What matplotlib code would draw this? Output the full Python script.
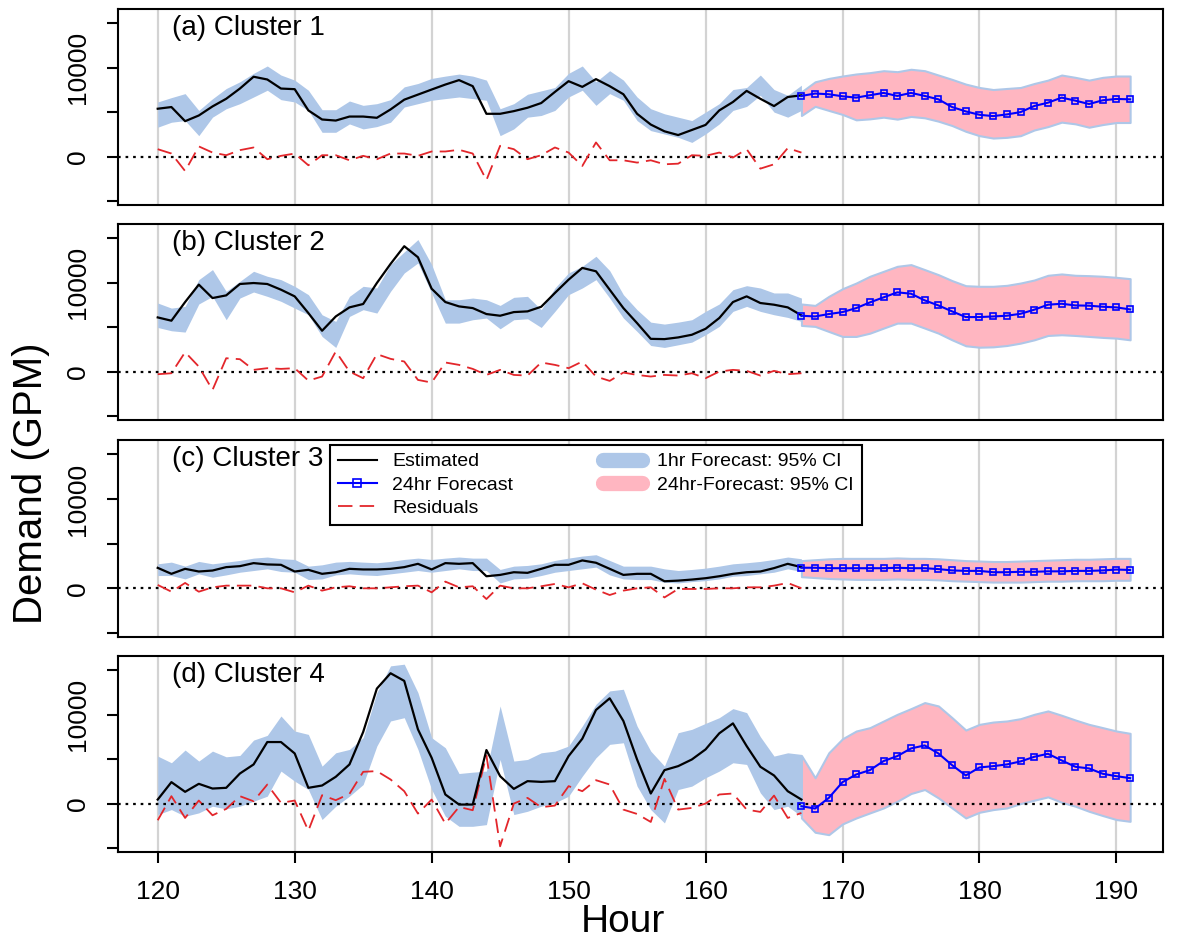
import matplotlib
matplotlib.use("Agg")
import matplotlib.pyplot as plt
from matplotlib.lines import Line2D

plt.rcParams['font.family'] = ['Liberation Sans', 'DejaVu Sans']

# Hours: observed/estimated part and 24 hour forecast part
hours_est = list(range(120, 168))
hours_fc = list(range(167, 192))

# Cluster 1
est_c1 = [5380, 5570, 3980, 4620, 5640, 6500, 7650, 8980, 8670, 7650,
          7580, 5190, 4170, 4050, 4500, 4500, 4360, 5300, 6400, 6970,
          7540, 8100, 8600, 7920, 4810, 4810, 5110, 5490, 6020, 7270,
          8480, 7840, 8710, 7920, 7010, 4810, 3600, 2840, 2420, 2990,
          3560, 5190, 6140, 7390, 6500, 5680, 6700, 6890]
hi1_c1 = [6140, 6630, 7080, 5190, 6500, 7650, 8410, 9360, 10190, 9170,
          8600, 7460, 5270, 5270, 6250, 5760, 5950, 6400, 7840, 8220,
          8790, 9050, 9280, 9050, 8600, 5380, 5950, 7010, 7390, 7770,
          9360, 10190, 8410, 9660, 8600, 6700, 5380, 4810, 4430, 4050,
          5000, 5950, 7540, 7770, 9170, 7540, 6890, 8030]
lo1_c1 = [3300, 3860, 4050, 2350, 4430, 5380, 5950, 6700, 7460, 6400,
          6140, 5190, 2730, 2730, 3670, 3110, 3370, 3860, 5570, 5950,
          6330, 6520, 6700, 6520, 6330, 2350, 3110, 4430, 4620, 5190,
          6700, 7460, 5760, 7080, 6330, 4050, 2920, 2540, 2160, 1590,
          2540, 3670, 5190, 5640, 6890, 5000, 4430, 5190]
resid_c1 = [830, 340, -1630, 1140, 450, 150, 720, 1020, -300, 80,
            340, -980, 150, 150, -420, 80, -300, 340, 340, 80,
            570, 570, 760, 340, -2650, 1210, 830, -300, 150, 1020,
            450, -1060, 1590, -420, -420, -680, -420, -870, -800, 150,
            80, 450, -110, 830, -1360, -870, 950, 450]
fc_c1 = [6820, 7090, 7010, 6780, 6630, 6900, 7160, 6820, 7160, 6820,
         6440, 5570, 5080, 4700, 4550, 4740, 5000, 5690, 6060, 6630,
         6290, 5910, 6330, 6480, 6440]
hi24_c1 = [7280, 8410, 8790, 9060, 9290, 9440, 9660, 9550, 9820, 9660,
           9170, 8680, 8150, 7770, 7540, 7660, 7770, 8220, 8600, 9170,
           8910, 8600, 8910, 9060, 9060]
lo24_c1 = [4620, 5650, 5190, 4740, 4130, 4240, 4430, 4210, 4510, 4360,
           3980, 3490, 2840, 2350, 2080, 2160, 2350, 2990, 3370, 3870,
           3680, 3300, 3600, 3830, 3830]

# Cluster 2
est_c2 = [6090, 5720, 7820, 9780, 8270, 8570, 9850, 9960, 9850, 9210,
          8460, 6580, 4590, 6200, 7220, 7600, 9960, 12110, 14100, 12860,
          9320, 7820, 7330, 7140, 6470, 6280, 6690, 6770, 7290, 8840,
          10340, 11660, 11280, 9210, 7140, 5450, 3680, 3650, 3840, 4140,
          4810, 6020, 7820, 8460, 7710, 7520, 7220, 6320]
hi1_c2 = [7710, 7140, 7330, 10340, 11470, 9020, 10150, 11280, 10720, 10340,
          9590, 8650, 6390, 5640, 8460, 9590, 9400, 12030, 13460, 14850,
          12030, 8080, 8080, 8270, 8080, 7440, 8350, 8460, 6960, 9400,
          11090, 11840, 12970, 11360, 8650, 6960, 5560, 5340, 5560, 5830,
          6770, 7600, 9210, 9660, 9400, 8840, 8840, 8270]
lo1_c2 = [4960, 4590, 4440, 7600, 8460, 5830, 8270, 8950, 8460, 7900,
          7140, 6390, 3950, 2710, 6200, 6960, 6580, 9020, 11090, 12220,
          8840, 5450, 5450, 5830, 6020, 4810, 5830, 5940, 4960, 6770,
          8650, 9400, 10340, 8270, 6020, 4510, 2930, 2710, 3010, 3310,
          4140, 5080, 6770, 7330, 6770, 6390, 6090, 5640]
resid_c2 = [-300, -190, 2180, 560, -2070, 1500, 1390, 190, 380, 300,
            380, -1020, -560, 2260, 0, -750, 1960, 1430, 1130, -940,
            -1240, 1020, 750, 300, -380, 190, -380, -450, 1020, 750,
            380, 1130, -560, -1050, -110, -380, -560, -380, -450, -190,
            -750, 0, 190, 80, -450, 80, -300, -190]
fc_c2 = [6280, 6200, 6470, 6690, 7140, 7780, 8350, 8910, 8760, 8010,
         7440, 6770, 6130, 6130, 6200, 6280, 6500, 6960, 7520, 7630,
         7440, 7410, 7290, 7220, 6990]
hi24_c2 = [7600, 7440, 8460, 9320, 9960, 10720, 11280, 11840, 12030, 11470,
           10900, 10230, 9660, 9590, 9590, 9700, 9960, 10300, 10830, 10980,
           10830, 10790, 10720, 10600, 10450]
lo24_c2 = [5190, 5080, 4510, 3950, 3950, 4320, 4890, 5450, 5450, 4890,
           4320, 3570, 2900, 2740, 2780, 2930, 3200, 3570, 4060, 4140,
           4060, 3950, 3840, 3760, 3570]

# Cluster 3
est_c3 = [2290, 1620, 2180, 1880, 1990, 2370, 2480, 2820, 2670, 2630,
          1880, 2070, 1620, 1800, 2180, 2110, 2110, 2180, 2370, 2740,
          2110, 2820, 2740, 2820, 1350, 1500, 1800, 1730, 2180, 2630,
          2630, 3120, 2860, 2180, 1500, 1620, 1620, 790, 860, 980,
          1130, 1350, 1620, 1800, 1880, 2260, 2740, 2370]
hi1_c3 = [2740, 2930, 2480, 3010, 2740, 2930, 3120, 3380, 3500, 3310,
          3230, 2480, 2630, 2930, 3010, 2930, 2860, 3010, 3230, 3380,
          3230, 3380, 3500, 3380, 3380, 2110, 2480, 2560, 2740, 3120,
          3380, 3610, 3760, 3120, 2480, 2480, 2480, 2180, 1990, 2110,
          2260, 2480, 2740, 2860, 3010, 3230, 3500, 3310]
lo1_c3 = [1430, 1430, 1050, 1620, 1240, 1500, 1800, 1990, 2180, 1880,
          1800, 980, 1050, 1500, 1620, 1500, 1430, 1620, 1800, 1990,
          1800, 1990, 2180, 1990, 1990, 600, 1050, 1130, 1430, 1800,
          1990, 2180, 2370, 1500, 1050, 980, 980, 680, 600, 750,
          860, 1050, 1350, 1430, 1620, 1800, 2180, 1880]
resid_c3 = [380, -380, 600, -380, 110, 300, 300, 300, 0, 0,
            -450, 300, -260, 110, 230, 0, 0, 110, 230, 300,
            -450, 750, 110, 230, -1200, 300, 0, 0, 230, 490,
            110, 560, -150, -750, -260, 0, 110, -1020, -75, -75,
            -75, 0, 0, 110, 110, 300, 600, 0]
fc_c3 = [2300, 2300, 2250, 2250, 2250, 2250, 2250, 2300, 2250, 2250,
         2150, 2000, 1950, 1950, 1800, 1800, 1850, 1850, 1900, 1900,
         1950, 1950, 2000, 2100, 2050]
hi24_c3 = [3100, 3200, 3300, 3350, 3350, 3350, 3350, 3400, 3350, 3350,
           3300, 3200, 3100, 3050, 3000, 3000, 3050, 3100, 3150, 3200,
           3250, 3250, 3300, 3350, 3350]
lo24_c3 = [1300, 1200, 1100, 1050, 1000, 1000, 1000, 1050, 1000, 1000,
           950, 850, 800, 750, 700, 700, 700, 750, 800, 800,
           850, 850, 850, 900, 900]

# Cluster 4
est_c4 = [450, 2410, 1320, 2220, 1690, 1770, 3380, 4400, 6920, 6920,
          5640, 1770, 2030, 3010, 4400, 8050, 12930, 14660, 13800, 8350,
          5150, 1020, -110, -110, 6020, 3080, 1650, 2520, 2440, 2520,
          5340, 7290, 10530, 11840, 9290, 4960, 1130, 3760, 4210, 4960,
          6090, 7900, 9020, 6470, 4140, 3160, 1390, 450]
hi1_c4 = [5340, 4590, 6020, 4780, 5900, 5260, 5410, 7140, 7670, 9850,
          8160, 7780, 4210, 5710, 6090, 7410, 12480, 15490, 15680, 12480,
          7410, 6280, 3380, 3530, 3650, 10980, 4780, 4960, 5710, 5900,
          6470, 8720, 11170, 12670, 12860, 8720, 5900, 4210, 7970, 8350,
          9020, 9660, 10680, 10230, 7520, 5340, 5710, 5530]
lo1_c4 = [-1240, -680, -1430, -1050, -300, -600, -300, 260, 830, 3650,
          2520, 1580, -1800, -300, 830, 2140, 6470, 9290, 9660, 6090,
          1580, -1430, -2560, -2560, -2370, 4960, -1240, -870, -300, 80,
          830, 3080, 5150, 6660, 6840, 1960, -680, -2180, 1580, 1960,
          2900, 3650, 4590, 4400, 1200, -680, -300, -1430]
resid_c4 = [-1880, 830, -1620, 340, -1320, -600, 830, 260, 2140, 80,
            340, -3050, 940, 380, 1090, 3570, 3650, 2710, 1390, -1130,
            450, -2260, -380, -750, 5410, -4810, 0, 640, -410, -230,
            1960, 1390, 2630, 2140, -680, -1170, -2070, 2780, -680, -490,
            0, 1020, 1130, -680, -940, 900, -1620, -1050]
fc_c4 = [-300, -560, 640, 2410, 3270, 3760, 4780, 5340, 6200, 6540,
         5640, 4320, 3160, 4060, 4210, 4400, 4740, 5260, 5600, 4850,
         4140, 3950, 3350, 3080, 2860]
hi24_c4 = [5410, 2900, 5720, 7290, 8160, 8540, 9290, 10040, 10680, 11360,
           10980, 9660, 8270, 8910, 9170, 9290, 9550, 10040, 10420, 9930,
           9400, 8910, 8540, 8160, 7900]
lo24_c4 = [-1620, -3230, -3500, -2290, -1620, -1050, -490, 260, 1130, 1580,
           640, -490, -1620, -980, -680, -490, 0, 380, 750, 150,
           -300, -870, -1350, -1800, -2000]

titles = ["(a) Cluster 1", "(b) Cluster 2", "(c) Cluster 3", "(d) Cluster 4"]
panels = [
    (est_c1, lo1_c1, hi1_c1, resid_c1, fc_c1, lo24_c1, hi24_c1),
    (est_c2, lo1_c2, hi1_c2, resid_c2, fc_c2, lo24_c2, hi24_c2),
    (est_c3, lo1_c3, hi1_c3, resid_c3, fc_c3, lo24_c3, hi24_c3),
    (est_c4, lo1_c4, hi1_c4, resid_c4, fc_c4, lo24_c4, hi24_c4),
]

blue_ci = "#aec7e8"
pink_ci = "#ffb6c1"
red = "#e3262b"

W, H = 1180, 940
fig = plt.figure(figsize=(W / 100, H / 100), dpi=100)

# panel boxes in pixels (top, bottom)
boxes = [(9, 205), (224, 420), (440, 637), (656, 852)]
left_px, right_px = 118, 1163

axes = []
for i, (top, bottom) in enumerate(boxes):
    ax = fig.add_axes([left_px / W, 1 - bottom / H,
                       (right_px - left_px) / W, (bottom - top) / H])
    est, lo1, hi1, resid, fc, lo24, hi24 = panels[i]

    ax.set_xlim(117.1, 193.4)
    ax.set_ylim(-5450, 16600)

    # vertical grid lines
    for g in range(120, 191, 10):
        ax.axvline(g, color="#d3d3d3", lw=1.6, zorder=0)

    # confidence bands
    ax.fill_between(hours_est, lo1, hi1, color=blue_ci, lw=0, zorder=1)
    ax.fill_between(hours_fc, lo24, hi24, facecolor=pink_ci,
                    edgecolor=blue_ci, lw=1.5, zorder=2)

    ax.axhline(0, color="black", lw=1.6, ls=(0, (1.2, 2.2)), zorder=3)

    ax.plot(hours_est, resid, color=red, lw=1.3, dashes=(8, 4), zorder=4)
    ax.plot(hours_est, est, color="black", lw=1.6, zorder=5)
    ax.plot(hours_fc, fc, color="blue", lw=1.5, marker="s", ms=5,
            mfc="none", mec="blue", mew=1.2, zorder=6)

    ax.text(54 / (right_px - left_px), 1 - 26 / (bottom - top), titles[i],
            transform=ax.transAxes, fontsize=20, va="baseline", ha="left")

    # y axis: ticks every 5000, labels only at 0 and 10000
    ax.set_yticks([-5000, 0, 5000, 10000, 15000])
    ax.set_yticklabels(["", "0", "", "10000", ""])
    ax.tick_params(axis="y", length=8, width=1.5, pad=12, labelsize=19,
                   labelrotation=90)
    for lab in ax.get_yticklabels():
        lab.set_va("center")

    if i < 3:
        ax.set_xticks([])
    else:
        ax.set_xticks(range(120, 191, 10))
        ax.tick_params(axis="x", length=8, width=1.5, pad=12, labelsize=19)

    for s in ax.spines.values():
        s.set_linewidth(1.5)
    axes.append(ax)

# legend sits on the third panel
handles = [
    Line2D([], [], color="black", lw=1.5),
    Line2D([], [], color="blue", lw=1.5, marker="s", ms=6, mfc="none",
           mec="blue", mew=1.2),
    Line2D([], [], color=red, lw=1.3, dashes=(8, 4)),
    Line2D([], [], color=blue_ci, lw=11, solid_capstyle="round"),
    Line2D([], [], color=pink_ci, lw=11, solid_capstyle="round"),
]
labels = ["Estimated", "24hr Forecast", "Residuals",
          "1hr Forecast: 95% CI", "24hr-Forecast: 95% CI"]
leg = axes[2].legend(handles, labels, ncol=2, loc="upper left",
                     bbox_to_anchor=(330 / W, 1 - 445 / H),
                     bbox_transform=fig.transFigure, fontsize=14,
                     frameon=True, fancybox=False, edgecolor="black",
                     framealpha=1, borderaxespad=0, borderpad=0.4,
                     handlelength=2.0, handletextpad=0.8,
                     columnspacing=4.6, labelspacing=0.3)
leg.get_frame().set_linewidth(1.5)
leg.set_zorder(10)

fig.text(623 / W, 1 - 932 / H, "Hour", fontsize=28, ha="center", va="baseline")
fig.text(31 / W, 1 - 483 / H, "Demand (GPM)", fontsize=29, rotation=90,
         ha="center", va="center")

fig.savefig("out.png", dpi=100)
